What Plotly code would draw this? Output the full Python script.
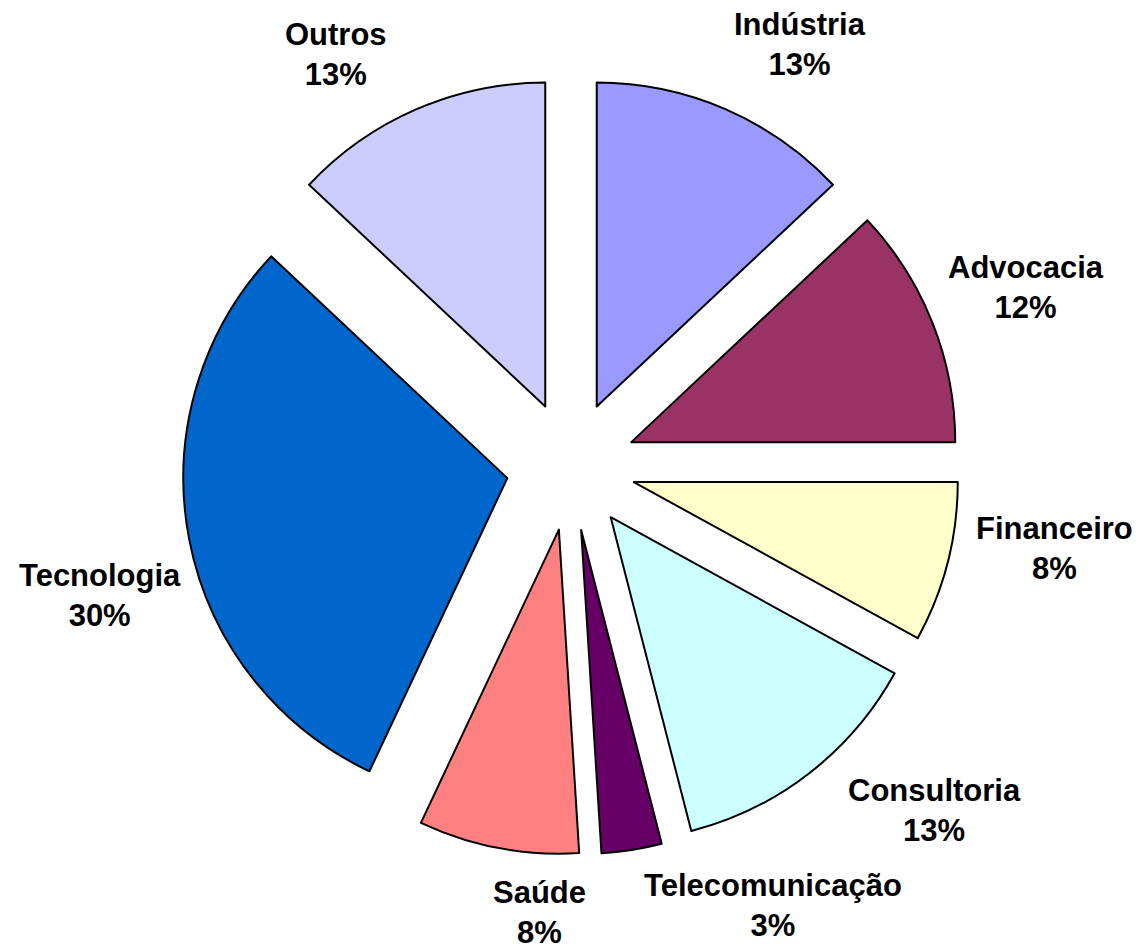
import math
import plotly.graph_objects as go

categories = ["Indústria", "Advocacia", "Financeiro", "Consultoria",
              "Telecomunicação", "Saúde", "Tecnologia", "Outros"]
values = [13, 12, 8, 13, 3, 8, 30, 13]
colors = ["#9999FF", "#993366", "#FFFFCC", "#CCFFFF",
          "#660066", "#FF8080", "#0066CC", "#CCCCFF"]

# ---- layout constants (pixels) ----
W, H = 1140, 950
PAGE_OFFSET = 8              # default <body> margin of the html page
PULL = 0.2
R = 324                      # pie radius in px
CX, CY = 571, 466            # pie centre on the page (px from top-left)
BOX = 2 * R * (1 + PULL)     # plotly: r = box / (2 + 2*pull)
# label offsets from the outer mid-point of each pulled slice (px)
label_nudge = [(75, -65), (94, -35), (107, -14), (125, 37),
               (141, 55), (41, 65), (-89, 57), (-81, -55)]
FONT = "Liberation Sans, Arial, sans-serif"

fx, fy = CX - PAGE_OFFSET, CY - PAGE_OFFSET   # centre in figure coordinates

fig = go.Figure(go.Pie(
    labels=categories,
    values=values,
    sort=False,
    direction="clockwise",
    rotation=0,
    pull=[PULL] * len(values),
    marker=dict(colors=colors, line=dict(color="#000000", width=2)),
    textinfo="none",
    showlegend=False,
    hoverinfo="label+percent",
    domain=dict(x=[(fx - BOX / 2) / W, (fx + BOX / 2) / W],
                y=[(H - fy - BOX / 2) / H, (H - fy + BOX / 2) / H]),
))

# labels: name + rounded percent, placed outside each slice
total = sum(values)
cum = 0
annotations = []
for name, v, (dx, dy) in zip(categories, values, label_nudge):
    mid = (cum + v / 2) / total * 2 * math.pi
    cum += v
    ax = fx + R * (1 + PULL) * math.sin(mid) + dx
    ay = fy - R * (1 + PULL) * math.cos(mid) + dy
    annotations.append(dict(
        x=ax / W, y=1 - ay / H, xref="paper", yref="paper",
        text=f"<b>{name}</b><br><b>{round(100 * v / total)}%</b>",
        showarrow=False, xanchor="center", yanchor="middle", align="center",
        font=dict(family=FONT, size=31, color="#000000"),
    ))

fig.update_layout(
    width=W, height=H,
    margin=dict(l=0, r=0, t=0, b=0, autoexpand=False),
    paper_bgcolor="white",
    plot_bgcolor="white",
    annotations=annotations,
)

fig.write_html("out.html")
